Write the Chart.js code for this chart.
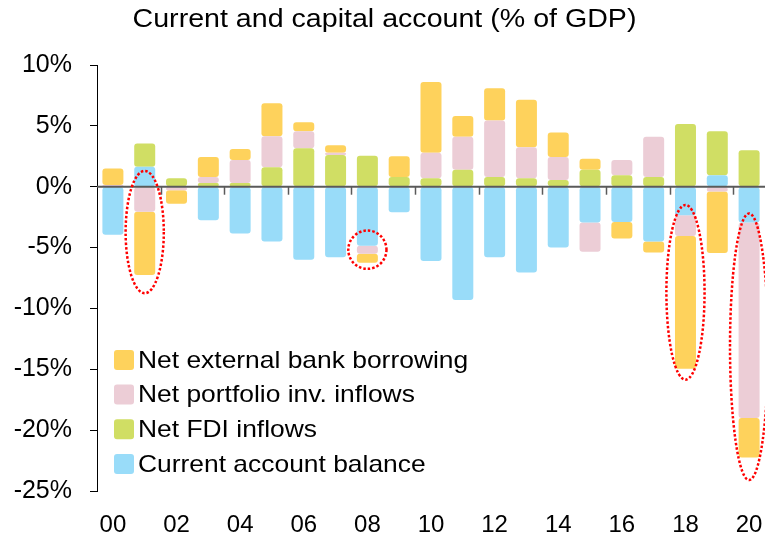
<!DOCTYPE html>
<html>
<head>
<meta charset="utf-8">
<script src="https://cdn.jsdelivr.net/npm/chart.js@4.4.1/dist/chart.umd.min.js"></script>
<style>
  body { margin: 0; background: #fff; }
  #wrap { width: 765px; height: 537px; }
</style>
</head>
<body>
<div id="wrap"><canvas id="chart"></canvas></div>
<script>
const years = ['00', '01', '02', '03', '04', '05', '06', '07', '08', '09', '10',
    '11', '12', '13', '14', '15', '16', '17', '18', '19', '20'];

// % of GDP
const currentAccount = [-3.95, 1.65, 0, -2.75, -3.85, -4.5, -6.0, -5.8, -4.85, -2.1, -6.1,
    -9.3, -5.8, -7.05, -5.0, -2.95, -2.9, -4.5, -2.35, 0.95, -2.95];
const fdiInflows = [0, 1.9, 0.7, 0.3, 0.3, 1.6, 3.15, 2.6, 2.55, 0.8, 0.7,
    1.4, 0.8, 0.7, 0.55, 1.4, 0.95, 0.8, 5.15, 3.6, 3.0];
const portfolioInflows = [0.15, -2.05, -0.3, 0.5, 1.9, 2.55, 1.4, 0.2, -0.65, 0, 2.1,
    2.7, 4.65, 2.55, 1.9, -2.4, 1.25, 3.3, -1.7, -0.4, -16.05];
const bankBorrowing = [1.35, -5.2, -1.1, 1.65, 0.9, 2.7, 0.75, 0.6, -0.75, 1.7, 5.8,
    1.7, 2.65, 3.9, 2.0, 0.9, -1.35, -0.9, -10.9, -5.05, -3.25];

const yTicks = [-25, -20, -15, -10, -5, 0, 5, 10];

// red dotted rings: year index, top and bottom in % of GDP
const ringYears = [1, 8, 18, 20];
const ringTop = [1.3, -3.6, -1.5, -2.2];
const ringBottom = [-8.75, -6.75, -15.85, -24.1];

const TITLE = 'Current and capital account (% of GDP)';
const FONT = 'Liberation Sans, Arial, sans-serif';
const radius = {topLeft: 3, topRight: 3, bottomLeft: 3, bottomRight: 3};

// title and legend text in the original are a little wider than plain Arial
const STRETCH = 1.1;

const titleText = {
    id: 'titleText',
    afterDraw(chart) {
        const {ctx} = chart;
        ctx.save();
        ctx.font = '26px ' + FONT;
        ctx.fillStyle = '#000';
        ctx.textAlign = 'center';
        ctx.textBaseline = 'alphabetic';
        ctx.translate(chart.width / 2 + 2, 27);
        ctx.scale(STRETCH, 1);
        ctx.fillText(TITLE, 0, 0);
        ctx.restore();
    }
};

// zero line with small tick marks between every second pair of years
const zeroLine = {
    id: 'zeroLine',
    afterDatasetsDraw(chart) {
        const {ctx, chartArea} = chart;
        const x = chart.scales.x;
        const y0 = chart.scales.y.getPixelForValue(0);
        const step = x.getPixelForValue(1) - x.getPixelForValue(0);
        ctx.save();
        ctx.strokeStyle = '#5a5a5a';
        ctx.lineWidth = 2;
        ctx.beginPath();
        ctx.moveTo(chartArea.left, y0);
        ctx.lineTo(chartArea.right, y0);
        ctx.stroke();
        ctx.lineWidth = 1.5;
        for (let i = 1; i < years.length - 1; i += 2) {
            const px = Math.round(x.getPixelForValue(i) + step / 2) + 0.5;
            ctx.beginPath();
            ctx.moveTo(px, y0);
            ctx.lineTo(px, y0 + 8);
            ctx.stroke();
        }
        ctx.restore();
    }
};

const rings = {
    id: 'rings',
    afterDatasetsDraw(chart) {
        const {ctx} = chart;
        const x = chart.scales.x;
        const y = chart.scales.y;
        const step = x.getPixelForValue(1) - x.getPixelForValue(0);
        ctx.save();
        ctx.strokeStyle = '#ff0000';
        ctx.lineWidth = 2.5;
        ctx.setLineDash([2.5, 2]);
        ringYears.forEach((idx, i) => {
            const top = y.getPixelForValue(ringTop[i]);
            const bottom = y.getPixelForValue(ringBottom[i]);
            ctx.beginPath();
            ctx.ellipse(x.getPixelForValue(idx), (top + bottom) / 2, step * 0.6, (bottom - top) / 2, 0, 0, Math.PI * 2);
            ctx.stroke();
        });
        ctx.restore();
    }
};

// legend sits inside the plot, bottom left, in reverse stack order
const innerLegend = {
    id: 'innerLegend',
    afterDraw(chart) {
        const {ctx, chartArea} = chart;
        const sets = chart.data.datasets.slice().reverse();
        ctx.save();
        ctx.font = '24px ' + FONT;
        ctx.textBaseline = 'middle';
        sets.forEach((ds, i) => {
            const cy = chartArea.bottom - 27 - (sets.length - 1 - i) * 34.7;
            ctx.fillStyle = ds.backgroundColor;
            ctx.beginPath();
            ctx.roundRect(chartArea.left + 17, cy - 10, 20, 20, 3);
            ctx.fill();
            ctx.save();
            ctx.translate(chartArea.left + 41, cy + 1);
            ctx.scale(STRETCH, 1);
            ctx.fillStyle = '#000';
            ctx.fillText(ds.label, 0, 0);
            ctx.restore();
        });
        ctx.restore();
    }
};

const ctx = document.getElementById('chart').getContext('2d');
new Chart(ctx, {
    type: 'bar',
    data: {
        labels: years,
        datasets: [
            {label: 'Current account balance', data: currentAccount, backgroundColor: 'rgb(153, 220, 249)'},
            {label: 'Net FDI inflows', data: fdiInflows, backgroundColor: 'rgb(208, 222, 100)'},
            {label: 'Net portfolio inv. inflows', data: portfolioInflows, backgroundColor: 'rgb(236, 205, 214)'},
            {label: 'Net external bank borrowing', data: bankBorrowing, backgroundColor: 'rgb(254, 210, 92)'}
        ].map(ds => Object.assign(ds, {
            borderWidth: 0,
            borderRadius: radius,
            borderSkipped: false,
            barPercentage: 0.66,
            categoryPercentage: 1
        }))
    },
    options: {
        responsive: true,
        maintainAspectRatio: false,
        animation: false,
        layout: {padding: {top: 65, left: 0, right: 0, bottom: 0}},
        plugins: {
            legend: {display: false},
            tooltip: {enabled: false},
            title: {display: false}
        },
        scales: {
            x: {
                stacked: true,
                grid: {display: false, drawTicks: false},
                border: {display: false},
                ticks: {
                    autoSkip: false,
                    maxRotation: 0,
                    color: '#000',
                    font: {family: FONT, size: 24},
                    padding: 20,
                    callback: (v, i) => (i % 2 === 0 ? years[i] : '')
                },
                afterFit: (scale) => {
                    scale.height = 46;
                    scale.paddingLeft = 0;
                    scale.paddingRight = 0;
                }
            },
            y: {
                stacked: true,
                min: -25,
                max: 10,
                afterBuildTicks: (scale) => { scale.ticks = yTicks.map(v => ({value: v})); },
                grid: {drawOnChartArea: false, drawTicks: true, tickLength: 7, color: '#000'},
                border: {color: '#000', width: 1},
                ticks: {
                    color: '#000',
                    font: {family: FONT, size: 25},
                    padding: 18,
                    callback: (v) => v + '%'
                },
                afterFit: (scale) => { scale.width = 97; }
            }
        }
    },
    plugins: [zeroLine, rings, innerLegend, titleText]
});
</script>
</body>
</html>
